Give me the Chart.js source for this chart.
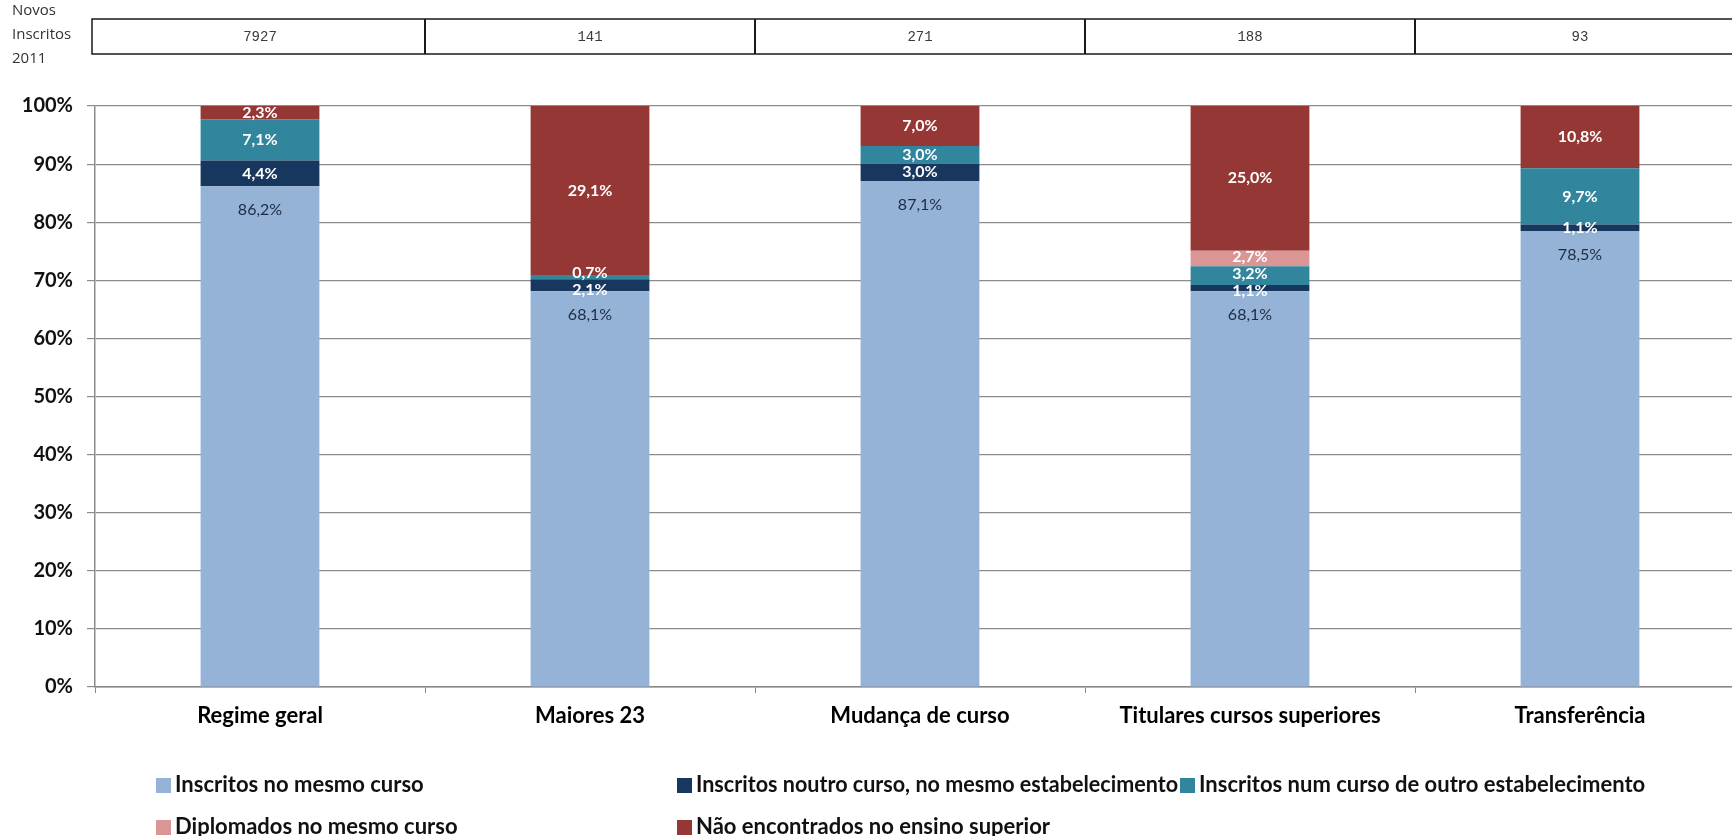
<!DOCTYPE html>
<html>
<head>
<meta charset="utf-8">
<title>Novos inscritos 2011</title>
<script src="https://cdn.jsdelivr.net/npm/chart.js@4.4.1/dist/chart.umd.min.js"></script>
<style>
  html, body { margin: 0; padding: 0; background: #fff; overflow: hidden; }
  #wrap { position: relative; width: 1732px; height: 836px; overflow: hidden; }
  canvas { display: block; }
</style>
</head>
<body>
<div id="wrap"><canvas id="chart" width="1760" height="836"></canvas></div>
<script>
const categories = ['Regime geral', 'Maiores 23', 'Mudança de curso', 'Titulares cursos superiores', 'Transferência'];
const novosInscritos = [7927, 141, 271, 188, 93];
const tableTitle = ['Novos', 'Inscritos', '2011'];

const seriesNames = [
    'Inscritos no mesmo curso',
    'Inscritos noutro curso, no mesmo estabelecimento',
    'Inscritos num curso de outro estabelecimento',
    'Diplomados no mesmo curso',
    'Não encontrados no ensino superior'
];
const mesmoCurso = [86.2, 68.1, 87.1, 68.1, 78.5];
const noutroCurso = [4.4, 2.1, 3.0, 1.1, 1.1];
const outroEstab = [7.1, 0.7, 3.0, 3.2, 9.7];
const diplomados = [0, 0, 0, 2.7, 0];
const naoEncontrados = [2.3, 29.1, 7.0, 25.0, 10.8];
const seriesColors = ['#95B3D7', '#17375E', '#31859C', '#D99694', '#953735'];

const seriesValues = [mesmoCurso, noutroCurso, outroEstab, diplomados, naoEncontrados];

const fmt = v => v.toFixed(1).replace('.', ',') + '%';

// data labels, spread apart when segments are too thin
const barLabels = {
    id: 'barLabels',
    afterDatasetsDraw(chart) {
        const ctx = chart.ctx;
        const gap = 17;
        categories.forEach((cat, i) => {
            const items = [];
            chart.data.datasets.forEach((ds, d) => {
                const v = ds.data[i];
                if (!v) return;
                const bar = chart.getDatasetMeta(d).data[i];
                const y = d === 0 ? bar.y + 24 : (bar.y + bar.base) / 2;
                items.push({ x: bar.x, y: y, text: fmt(v), first: d === 0 });
            });
            items.sort((a, b) => a.y - b.y);
            for (let k = 0; k < 40; k++) {
                for (let j = 1; j < items.length; j++) {
                    const diff = items[j].y - items[j - 1].y;
                    if (diff < gap) {
                        const s = (gap - diff) / 2;
                        items[j - 1].y -= s;
                        items[j].y += s;
                    }
                }
            }
            ctx.save();
            ctx.textAlign = 'center';
            ctx.textBaseline = 'middle';
            items.forEach(it => {
                if (it.first) {
                    ctx.font = '16px Lato';
                    ctx.fillStyle = '#1C2B45';
                } else {
                    ctx.font = 'bold 16px Lato';
                    ctx.fillStyle = '#FFFFFF';
                }
                ctx.fillText(it.text, it.x, it.y);
            });
            ctx.restore();
        });
    }
};

// row of "Novos Inscritos 2011" above the plot
const topTable = {
    id: 'topTable',
    afterDraw(chart) {
        const x = chart.scales.x;
        const ctx = chart.ctx;
        const top = 19, bottom = 54, left = 92;
        const right = chart.chartArea.right;
        ctx.save();
        ctx.strokeStyle = '#1a1a1a';
        ctx.lineWidth = 1.5;
        ctx.strokeRect(left, top, right - left, bottom - top);
        ctx.beginPath();
        for (let i = 1; i < categories.length; i++) {
            const bx = Math.round((x.getPixelForValue(i - 1) + x.getPixelForValue(i)) / 2);
            ctx.moveTo(bx, top);
            ctx.lineTo(bx, bottom);
        }
        ctx.lineWidth = 2;
        ctx.stroke();

        ctx.fillStyle = '#3a3a3a';
        ctx.font = '14px "Liberation Mono"';
        ctx.textAlign = 'center';
        ctx.textBaseline = 'middle';
        novosInscritos.forEach((n, i) => {
            ctx.fillText(String(n), x.getPixelForValue(i), (top + bottom) / 2 + 1);
        });

        ctx.textAlign = 'left';
        ctx.font = '15px "Open Sans"';
        ctx.fillStyle = '#333';
        [11, 35, 59].forEach((ty, k) => ctx.fillText(tableTitle[k], 12, ty));
        ctx.restore();
    }
};

// legend in two rows, three columns
const gridLegend = {
    id: 'gridLegend',
    afterDraw(chart) {
        const ctx = chart.ctx;
        const cols = [156, 677, 1180];
        const widths = [500, 482, 540];
        const rows = [785, 827];
        ctx.save();
        ctx.font = 'bold 22px Lato';
        ctx.textBaseline = 'middle';
        ctx.textAlign = 'left';
        seriesNames.forEach((name, k) => {
            const cx = cols[k % 3];
            const cy = rows[Math.floor(k / 3)];
            ctx.fillStyle = seriesColors[k];
            ctx.fillRect(cx, cy - 7, 15, 15);
            ctx.fillStyle = '#111';
            ctx.fillText(name, cx + 19, cy, widths[k % 3]);
        });
        ctx.restore();
    }
};

const ctx = document.getElementById('chart').getContext('2d');
const chart = new Chart(ctx, {
    type: 'bar',
    data: {
        labels: categories,
        datasets: seriesValues.map((vals, k) => ({
            label: seriesNames[k],
            data: vals,
            backgroundColor: seriesColors[k],
            borderWidth: 0,
            barPercentage: 0.36,
            categoryPercentage: 1.0
        }))
    },
    options: {
        responsive: false,
        animation: false,
        devicePixelRatio: 1,
        layout: { padding: { top: 106, right: 15, bottom: 89, left: 0 } },
        plugins: {
            legend: { display: false },
            tooltip: { enabled: false }
        },
        scales: {
            x: {
                stacked: true,
                afterFit(scale) { scale.height = 60; },
                grid: {
                    offset: true,
                    drawOnChartArea: false,
                    tickLength: 6,
                    color: '#888'
                },
                border: { color: '#888', width: 1.5 },
                ticks: {
                    color: '#000',
                    padding: 10,
                    font: { family: 'Lato', size: 22, weight: 'bold' }
                }
            },
            y: {
                stacked: true,
                min: 0,
                max: 100,
                afterFit(scale) { scale.width = 95; },
                grid: { color: '#8c8c8c', lineWidth: 1.2, tickLength: 8 },
                border: { color: '#8c8c8c', width: 1.5 },
                ticks: {
                    stepSize: 10,
                    padding: 14,
                    color: '#111',
                    font: { family: 'Lato', size: 20, weight: 'bold' },
                    callback: v => v + '%'
                }
            }
        }
    },
    plugins: [barLabels, topTable, gridLegend]
});
</script>
</body>
</html>
